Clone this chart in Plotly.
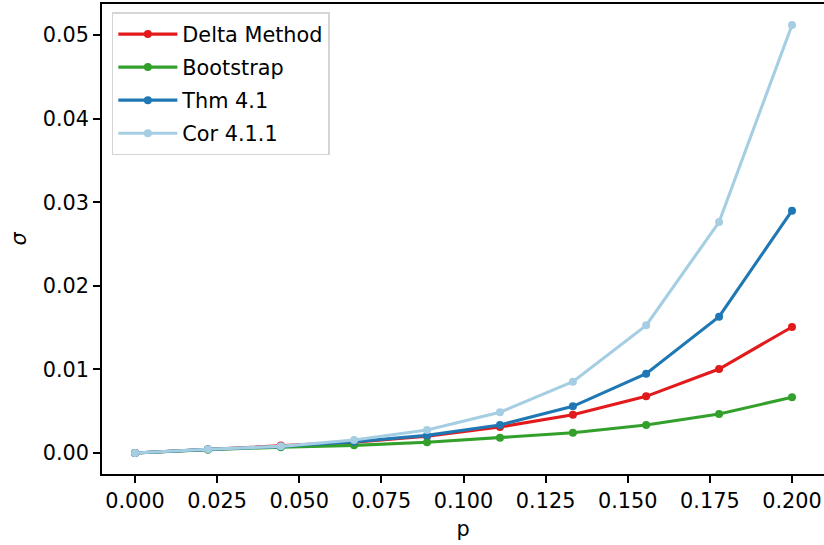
import numpy as np
import plotly.graph_objects as go

# p grid and estimated standard deviations of each method
p = [0.0, 0.0222, 0.0444, 0.0667, 0.0889, 0.1111, 0.1333, 0.1556, 0.1778, 0.2]
delta_method = [0.0, 0.00046, 0.00090, 0.00130, 0.00200, 0.00311, 0.00458, 0.00678, 0.01005, 0.01507]
bootstrap = [0.0, 0.00040, 0.00070, 0.00092, 0.00128, 0.00183, 0.00243, 0.00335, 0.00467, 0.00666]
thm_41 = [0.0, 0.00044, 0.00078, 0.00135, 0.00211, 0.00335, 0.00558, 0.00949, 0.01631, 0.02899]
cor_411 = [0.0, 0.00045, 0.00080, 0.00156, 0.00275, 0.00487, 0.00853, 0.01527, 0.02763, 0.05120]

x_ticks = [0.0, 0.025, 0.05, 0.075, 0.1, 0.125, 0.15, 0.175, 0.2]
x_tick_text = ["0.000", "0.025", "0.050", "0.075", "0.100", "0.125", "0.150", "0.175", "0.200"]
y_ticks = [0.0, 0.01, 0.02, 0.03, 0.04, 0.05]
y_tick_text = ["0.00", "0.01", "0.02", "0.03", "0.04", "0.05"]

series = [
    ("Delta Method", delta_method, "#e31a1c"),
    ("Bootstrap", bootstrap, "#33a02c"),
    ("Thm 4.1", thm_41, "#1f78b4"),
    ("Cor 4.1.1", cor_411, "#a6cee3"),
]

FONT = "DejaVu Sans"
FS = 20.8

fig = go.Figure()
for name, vals, color in series:
    fig.add_trace(go.Scatter(
        x=p, y=vals, name=name, mode="lines+markers", legendgroup=name,
        line=dict(color=color, width=3.1),
        marker=dict(color=color, size=8),
    ))

axis_common = dict(
    showgrid=False, zeroline=False, showline=True, linecolor="black", linewidth=1.6,
    ticks="outside", ticklen=7, tickwidth=1.6, tickcolor="black",
    tickfont=dict(family=FONT, size=FS, color="black"),
)

fig.update_layout(
    width=824, height=545,
    margin=dict(l=102, r=0, t=4, b=71),
    paper_bgcolor="white", plot_bgcolor="white",
    font=dict(family=FONT, size=FS, color="black"),
    showlegend=True,
    legend=dict(
        x=0.0135, y=0.982, xanchor="left", yanchor="top",
        bgcolor="rgba(255,255,255,0.8)", bordercolor="#d5d5d5", borderwidth=1.6,
        font=dict(family=FONT, size=FS, color="black"),
        itemwidth=59, tracegroupgap=3,
    ),
    xaxis=dict(
        range=[-0.01005, 0.20974], tickvals=x_ticks, ticktext=x_tick_text,
        mirror=True,
        title=dict(text="p", font=dict(family=FONT, size=FS, color="black"), standoff=10),
        **axis_common,
    ),
    yaxis=dict(
        range=[-0.00251, 0.05371], tickvals=y_ticks, ticktext=y_tick_text,
        title=dict(text="<i>σ</i>", font=dict(family=FONT, size=FS, color="black"), standoff=10),
        **axis_common,
    ),
)

fig.write_html("out.html")
